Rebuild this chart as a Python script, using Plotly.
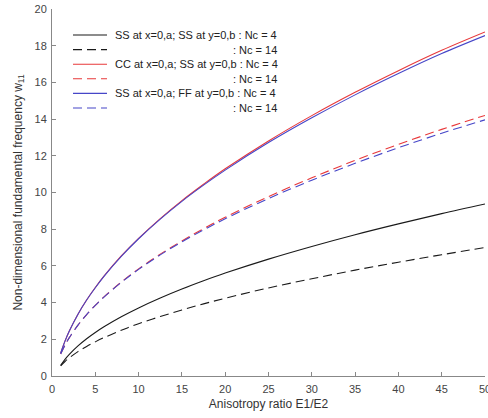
import plotly.graph_objects as go

# Anisotropy ratio E1/E2
ratio = [1, 1.5, 2, 3, 4, 5, 6, 8, 10, 12.5, 15, 17.5, 20, 25, 30, 35, 40, 45, 50]

# Non-dimensional fundamental frequency w11
ss_ss_nc4 = [0.58, 0.91, 1.18, 1.64, 2.03, 2.37, 2.68, 3.23, 3.71, 4.25, 4.74, 5.19, 5.61, 6.37, 7.06, 7.70, 8.29, 8.85, 9.37]
ss_ss_nc14 = [0.55, 0.79, 0.99, 1.33, 1.61, 1.86, 2.09, 2.49, 2.85, 3.24, 3.60, 3.93, 4.24, 4.80, 5.30, 5.77, 6.20, 6.61, 7.00]
cc_ss_nc4 = [1.25, 1.90, 2.45, 3.37, 4.14, 4.82, 5.44, 6.54, 7.50, 8.58, 9.56, 10.45, 11.29, 12.81, 14.19, 15.46, 16.64, 17.75, 18.75]
cc_ss_nc14 = [1.20, 1.68, 2.09, 2.77, 3.35, 3.85, 4.31, 5.12, 5.84, 6.64, 7.36, 8.03, 8.65, 9.78, 10.80, 11.75, 12.62, 13.44, 14.20]
ss_ff_nc4 = [1.25, 1.90, 2.45, 3.37, 4.14, 4.81, 5.43, 6.52, 7.48, 8.55, 9.52, 10.40, 11.22, 12.72, 14.07, 15.32, 16.48, 17.57, 18.55]
ss_ff_nc14 = [1.20, 1.68, 2.09, 2.77, 3.35, 3.85, 4.30, 5.10, 5.81, 6.60, 7.31, 7.96, 8.57, 9.67, 10.67, 11.59, 12.44, 13.23, 13.96]

x_ticks = [0, 5, 10, 15, 20, 25, 30, 35, 40, 45, 50]
y_ticks = [0, 2, 4, 6, 8, 10, 12, 14, 16, 18, 20]

BLACK = "#1a1a1a"
RED = "#e8383a"
BLUE = "#4646c8"
FONT = "Liberation Sans, Arial, sans-serif"

series = [
    ("SS at x=0,a; SS at y=0,b : Nc = 4", ss_ss_nc4, BLACK, "solid"),
    ("SS at x=0,a; SS at y=0,b : Nc = 14", ss_ss_nc14, BLACK, "dash"),
    ("CC at x=0,a; SS at y=0,b : Nc = 4", cc_ss_nc4, RED, "solid"),
    ("CC at x=0,a; SS at y=0,b : Nc = 14", cc_ss_nc14, RED, "dash"),
    ("SS at x=0,a; FF at y=0,b : Nc = 4", ss_ff_nc4, BLUE, "solid"),
    ("SS at x=0,a; FF at y=0,b : Nc = 14", ss_ff_nc14, BLUE, "dash"),
]

DASH = "9px,5px"

fig = go.Figure()
for name, vals, col, dash in series:
    fig.add_trace(go.Scatter(
        x=ratio, y=vals, mode="lines", name=name,
        line=dict(color=col, width=1.1, dash=DASH if dash == "dash" else "solid",
                  shape="spline", smoothing=1.0),
        showlegend=False,
    ))

W, H = 488, 418
L, R, T, B = 52, 3, 9, 42
pw, ph = W - L - R, H - T - B


def px(xp):
    return (xp - L) / pw


def py(yp):
    return (H - B - yp) / ph


# compact MATLAB-style legend in the top-left corner of the axes
shapes = []
annotations = []
row0, gap = 35, 14.6
for i, (name, vals, col, dash) in enumerate(series):
    yy = row0 + i * gap
    shapes.append(dict(type="line", xref="paper", yref="paper",
                       x0=px(73), x1=px(107), y0=py(yy), y1=py(yy),
                       line=dict(color=col, width=1.1, dash=DASH if dash == "dash" else "solid")))
    if i % 2 == 0:
        annotations.append(dict(xref="paper", yref="paper", x=px(113), y=py(yy),
                                xanchor="left", yanchor="middle", showarrow=False,
                                text=name, font=dict(family=FONT, size=11, color="#222")))
    else:
        annotations.append(dict(xref="paper", yref="paper", x=px(231), y=py(yy),
                                xanchor="left", yanchor="middle", showarrow=False,
                                text=": Nc = 14", font=dict(family=FONT, size=11, color="#222")))

fig.update_layout(
    width=W, height=H,
    margin=dict(l=L, r=R, t=T, b=B, pad=0, autoexpand=False),
    paper_bgcolor="white", plot_bgcolor="white",
    font=dict(family=FONT, size=11, color="#444"),
    shapes=shapes, annotations=annotations,
    xaxis=dict(range=[0, 50], tickvals=x_ticks, ticktext=[str(v) for v in x_ticks],
               showline=True, linecolor="#888", linewidth=1, mirror=False, automargin=False,
               ticks="inside", ticklen=4, tickcolor="#888", showgrid=False, zeroline=False,
               ticklabeloverflow="allow", ticklabelstandoff=3,
               tickfont=dict(size=11, color="#444"),
               title=dict(text="Anisotropy ratio E1/E2", font=dict(size=12, color="#333"), standoff=5)),
    yaxis=dict(range=[0, 20], tickvals=y_ticks, ticktext=[str(v) for v in y_ticks],
               showline=True, linecolor="#888", linewidth=1, mirror=False, automargin=False,
               ticks="inside", ticklen=4, tickcolor="#888", showgrid=False, zeroline=False,
               tickfont=dict(size=11, color="#444"), ticklabelstandoff=2,
               title=dict(text="Non-dimensional fundamental frequency w<sub>11</sub>",
                          font=dict(size=12, color="#333"), standoff=9)),
)

fig.write_html("out.html", config={"displayModeBar": False},
               post_script="document.body.style.margin='0';")
